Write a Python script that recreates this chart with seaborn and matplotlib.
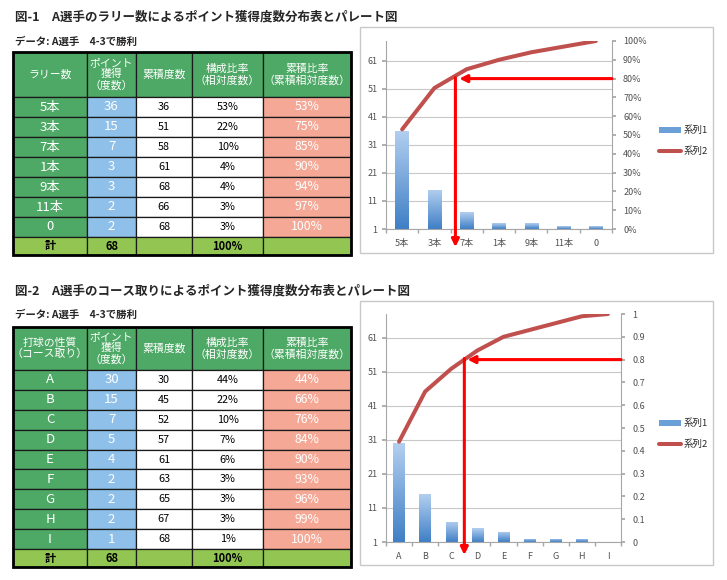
import numpy as np
import matplotlib
matplotlib.use("Agg")
import matplotlib.pyplot as plt
import seaborn as sns
from matplotlib.patches import Rectangle, Patch
from matplotlib.lines import Line2D
from matplotlib.colors import LinearSegmentedColormap
from matplotlib.ticker import FixedLocator, FuncFormatter, NullFormatter

# ─────────────────────────────────────────────
# DATA
# ─────────────────────────────────────────────
title_1 = "図-1　A選手のラリー数によるポイント獲得度数分布表とパレート図"
title_2 = "図-2　A選手のコース取りによるポイント獲得度数分布表とパレート図"
data_note = "データ: A選手　4-3で勝利"

header_1 = ["ラリー数", "ポイント\n獲得\n（度数）", "累積度数",
            "構成比率\n（相対度数）", "累積比率\n（累積相対度数）"]
header_2 = ["打球の性質\n（コース取り）", "ポイント\n獲得\n（度数）", "累積度数",
            "構成比率\n（相対度数）", "累積比率\n（累積相対度数）"]

rally_labels = ["5本", "3本", "7本", "1本", "9本", "11本", "0"]
rally_counts = [36, 15, 7, 3, 3, 2, 2]
rally_cum_counts = [36, 51, 58, 61, 68, 66, 68]
rally_share = [53, 22, 10, 4, 4, 3, 3]
rally_cum_share = [0.53, 0.75, 0.85, 0.90, 0.94, 0.97, 1.00]

course_labels = ["A", "B", "C", "D", "E", "F", "G", "H", "I"]
course_counts = [30, 15, 7, 5, 4, 2, 2, 2, 1]
course_cum_counts = [30, 45, 52, 57, 61, 63, 65, 67, 68]
course_share = [44, 22, 10, 7, 6, 3, 3, 3, 1]
course_cum_share = [0.44, 0.66, 0.76, 0.84, 0.90, 0.93, 0.96, 0.99, 1.00]

total_label = "計"
total_count = 68
total_share_label = "100%"
legend_names = ["系列1", "系列2"]
left_ticks = [1, 11, 21, 31, 41, 51, 61]
threshold = 0.8

# ─────────────────────────────────────────────
# STYLE
# ─────────────────────────────────────────────
sns.set_theme(style="white")
plt.rcParams["font.family"] = ["Noto Sans CJK JP", "DejaVu Sans"]

W, H = 727, 580
GREEN = "#4EA866"
BLUE = "#8EC0E9"
SALMON = "#F5A896"
LIME = "#92C551"
LINE_RED = "#C0504D"
ARROW_RED = "#FF0000"
TICK_COL = "#505050"
AXIS_COL = "#A6A6A6"
COL_X = [13, 87, 136, 192, 263, 351]

bar_cmap = LinearSegmentedColormap.from_list("bar_fill", ["#3F7FC6", "#B3CFF0"])

fig = plt.figure(figsize=(W / 100, H / 100), dpi=100)
bg = fig.add_axes([0, 0, 1, 1])
bg.set_xlim(0, W)
bg.set_ylim(H, 0)
bg.axis("off")


def px_axes(left, top, width, height):
    return fig.add_axes([left / W, 1 - (top + height) / H, width / W, height / H])


# ─────────────────────────────────────────────
# TABLES
# ─────────────────────────────────────────────
def draw_table(top, header_h, row_h, total_h, header, labels, counts,
               cum_counts, shares, cum_shares):
    # header
    for i, txt in enumerate(header):
        x0, x1 = COL_X[i], COL_X[i + 1]
        bg.add_patch(Rectangle((x0, top), x1 - x0, header_h, facecolor=GREEN,
                               edgecolor="#1a1a1a", lw=0.9))
        bg.text((x0 + x1) / 2, top + header_h / 2, txt, color="white",
                fontsize=7.8, ha="center", va="center", linespacing=1.1)

    fills = [GREEN, BLUE, "white", "white", SALMON]
    tcols = ["white", "white", "black", "black", "white"]
    sizes = [9.5, 9.5, 7.8, 7.8, 8.8]
    y = top + header_h
    for lab, c, cc, s, cs in zip(labels, counts, cum_counts, shares, cum_shares):
        cells = [lab, str(c), str(cc), f"{s}%", f"{round(cs * 100)}%"]
        for i, txt in enumerate(cells):
            x0, x1 = COL_X[i], COL_X[i + 1]
            bg.add_patch(Rectangle((x0, y), x1 - x0, row_h, facecolor=fills[i],
                                   edgecolor="#1a1a1a", lw=0.9))
            bg.text((x0 + x1) / 2, y + row_h / 2, txt, color=tcols[i],
                    fontsize=sizes[i], ha="center", va="center")
        y += row_h

    cells = [total_label, str(total_count), "", total_share_label, ""]
    for i, txt in enumerate(cells):
        x0, x1 = COL_X[i], COL_X[i + 1]
        bg.add_patch(Rectangle((x0, y), x1 - x0, total_h, facecolor=LIME,
                               edgecolor="#1a1a1a", lw=0.9))
        bg.text((x0 + x1) / 2, y + total_h / 2, txt, color="black",
                fontsize=8, ha="center", va="center", fontweight="bold")
    y += total_h
    bg.add_patch(Rectangle((COL_X[0], top), COL_X[-1] - COL_X[0], y - top,
                           facecolor="none", edgecolor="black", lw=2))


# ─────────────────────────────────────────────
# PARETO CHARTS
# ─────────────────────────────────────────────
def shade_bars(ax, ymin):
    grad = np.linspace(1, 0, 128).reshape(-1, 1)
    for p in list(ax.patches):
        x0, y0 = p.get_x(), p.get_y()
        w, h = p.get_width(), p.get_height()
        if y0 + h <= ymin:
            continue
        im = ax.imshow(grad, cmap=bar_cmap, aspect="auto", interpolation="bicubic",
                       extent=[x0, x0 + w, max(y0, ymin), y0 + h],
                       zorder=p.get_zorder() + 0.1)
        im.set_clip_path(p)


def pareto(rect, labels, counts, cum_share, bar_w, right_fmt, arrow_x,
           arrow_bottom, legend_y):
    n = len(labels)
    ax = px_axes(*rect)
    sns.barplot(x=labels, y=counts, ax=ax, color="#6A9FD8", width=bar_w,
                errorbar=None, linewidth=0)
    shade_bars(ax, left_ticks[0])
    ax.set_ylim(left_ticks[0], total_count)
    ax.set_xlim(-0.5, n - 0.5)
    ax.set_aspect("auto")
    ax.set_yticks(left_ticks)
    ax.yaxis.grid(True, color="#C8C8C8", lw=0.8)
    ax.set_axisbelow(True)
    ax.set_xlabel("")
    ax.set_ylabel("")
    for side in ["top", "right"]:
        ax.spines[side].set_visible(False)
    for side in ["left", "bottom"]:
        ax.spines[side].set_color(AXIS_COL)
        ax.spines[side].set_linewidth(0.8)
    ax.xaxis.set_minor_locator(FixedLocator(np.arange(n + 1) - 0.5))
    ax.xaxis.set_minor_formatter(NullFormatter())
    ax.tick_params(axis="x", which="major", length=0, pad=7, labelsize=6.5,
                   labelcolor=TICK_COL)
    ax.tick_params(axis="x", which="minor", length=3, color=AXIS_COL,
                   direction="out", bottom=True)
    ax.tick_params(axis="y", length=3, color=AXIS_COL, direction="out",
                   left=True, pad=3, labelsize=6.5, labelcolor=TICK_COL)

    ax2 = ax.twinx()
    sns.lineplot(x=np.arange(n), y=cum_share, ax=ax2, color=LINE_RED, lw=2.9,
                 sort=False)
    ax2.set_ylim(0, 1)
    ax2.set_xlim(-0.5, n - 0.5)
    ax2.set_yticks(np.linspace(0, 1, 11))
    ax2.yaxis.set_major_formatter(FuncFormatter(right_fmt))
    ax2.set_ylabel("")
    for side in ["top", "left", "bottom"]:
        ax2.spines[side].set_visible(False)
    ax2.spines["right"].set_color(AXIS_COL)
    ax2.spines["right"].set_linewidth(0.8)
    ax2.tick_params(axis="y", length=3, color=AXIS_COL, direction="out",
                    right=True, pad=5, labelsize=6.5, labelcolor=TICK_COL)

    # 80% guide arrows
    arrow = dict(arrowstyle="-|>", color=ARROW_RED, lw=2.2, mutation_scale=11,
                 shrinkA=0, shrinkB=0)
    ax2.annotate("", xy=(arrow_x + 0.12, threshold), xytext=(n - 0.5, threshold),
                 arrowprops=arrow, annotation_clip=False, zorder=5)
    ax2.annotate("", xy=(arrow_x, arrow_bottom), xytext=(arrow_x, threshold + 0.005),
                 arrowprops=arrow, annotation_clip=False, zorder=5)

    handles = [Patch(facecolor="#6A9FD8", edgecolor="none"),
               Line2D([0], [0], color=LINE_RED, lw=2.9)]
    ax2.legend(handles, legend_names, loc="center left", frameon=False,
               bbox_to_anchor=(650 / W, 1 - legend_y / H),
               bbox_transform=fig.transFigure, fontsize=6.8, handlelength=2.4,
               handleheight=0.55, handletextpad=0.25, labelspacing=1.2)
    return ax, ax2


# ─────────────────────────────────────────────
# LAYOUT
# ─────────────────────────────────────────────
bg.text(15, 17, title_1, fontsize=9, fontweight="bold", va="center", ha="left")
bg.text(15, 42, data_note, fontsize=7.5, fontweight="bold", va="center", ha="left")
draw_table(52, 45, 20, 18, header_1, rally_labels, rally_counts,
           rally_cum_counts, rally_share, rally_cum_share)

bg.text(15, 291, title_2, fontsize=9, fontweight="bold", va="center", ha="left")
bg.text(15, 315, data_note, fontsize=7.5, fontweight="bold", va="center", ha="left")
draw_table(327, 43, 19.9, 18, header_2, course_labels, course_counts,
           course_cum_counts, course_share, course_cum_share)

bg.add_patch(Rectangle((360, 27), 353, 226, facecolor="white",
                       edgecolor="#C8C8C8", lw=1))
bg.add_patch(Rectangle((360, 301), 353, 264, facecolor="white",
                       edgecolor="#C8C8C8", lw=1))

pareto((386, 41, 226, 188), rally_labels, rally_counts, rally_cum_share,
       0.42, lambda v, _: f"{round(v * 100)}%", 1.65, -0.096, 141)
pareto((386, 314, 235, 228), course_labels, course_counts, course_cum_share,
       0.44, lambda v, _: f"{round(v, 1):g}", 2.5, -0.057, 434)

plt.savefig("out.png", dpi=100)
plt.close()
